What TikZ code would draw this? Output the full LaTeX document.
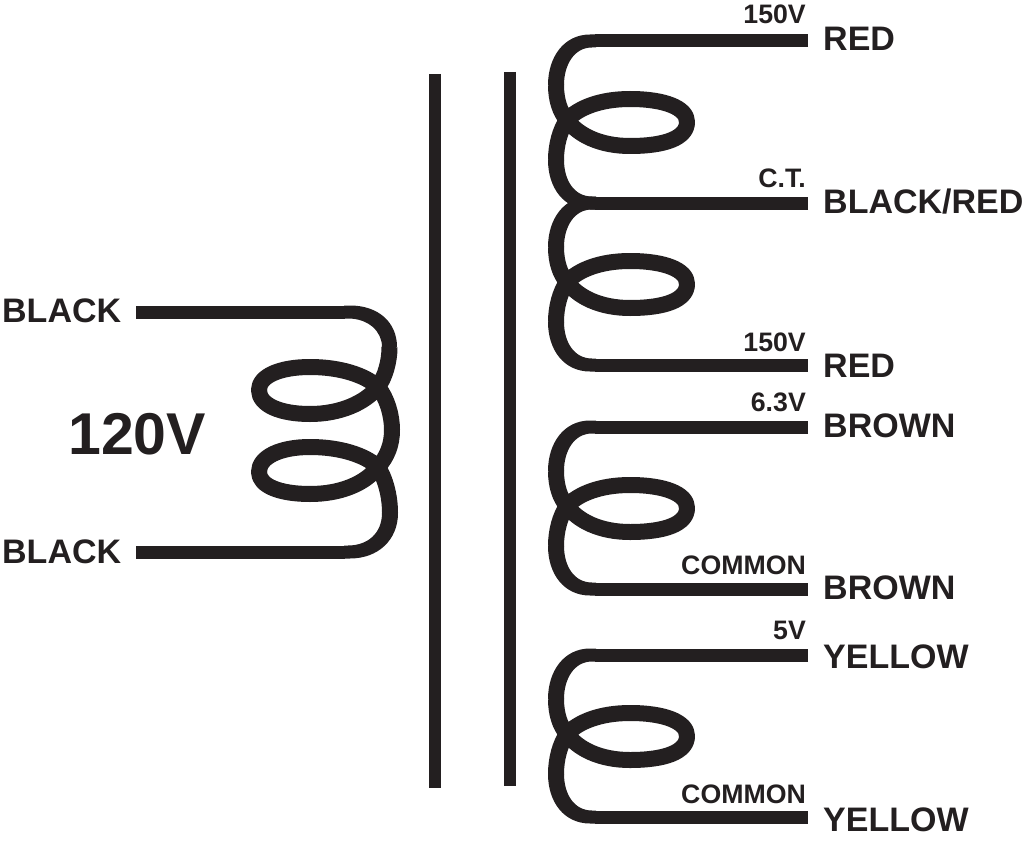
\documentclass[tikz,border=0pt]{standalone}
\usepackage{fontspec}
\setmainfont{Liberation Sans}
\definecolor{ink}{HTML}{231F20}
\tikzstyle{wire} = [draw=ink, line width=13pt, line join=round]
\tikzstyle{thick wire} = [draw=ink, line width=16pt, line join=round]
\tikzstyle{core} = [draw=ink, line width=12.5pt]
\tikzstyle{lead} = [inner sep=0pt, anchor=base west, font=\fontsize{34}{34}\selectfont\bfseries, text=ink]
\tikzstyle{tap} = [inner sep=0pt, anchor=base east, font=\fontsize{26.7}{26.7}\selectfont\bfseries, text=ink]
% one half of the secondary, #1 = how far down it sits
\newcommand{\halfcoil}[1]{
    \begin{scope}[shift={(0,#1)}]
    \draw[wire] (808,41) -- (595,41);
    \draw[wire] (595,203) -- (808,203);
    % bends swell from the lead to the loop
    \fill[ink] (596,34.5) -- (590,34.5) .. controls (564,34.5) and (548,57) .. (548,85)
        -- (564,85) .. controls (564,65) and (574,47.5) .. (592,47.5) -- (596,47.5) -- cycle;
    \fill[ink] (596,209.5) -- (590,209.5) .. controls (564,209.5) and (548,188) .. (548,160)
        -- (564,160) .. controls (564,180) and (574,196.5) .. (592,196.5) -- (596,196.5) -- cycle;
    \draw[thick wire] (556,85) .. controls (556,100) and (560,112) .. (567,120)
        .. controls (578,135) and (600,146) .. (630,146)
        .. controls (665,146) and (687,138) .. (687,122)
        .. controls (687,108) and (665,99) .. (630,99)
        .. controls (600,99) and (578,108) .. (567,120)
        .. controls (560,130) and (556,145) .. (556,160);
    \end{scope}
}

\begin{document}
\begin{tikzpicture}[x=1pt, y=-1pt]
    \useasboundingbox (0,0) rectangle (1024,845);

    \draw[core] (435,74) -- (435,788);
    \draw[core] (510,72) -- (510,786);

    % primary
    \draw[wire] (136,312) -- (345,312);
    \draw[wire] (136,552) -- (345,552);
    \fill[ink] (344,305.5) -- (350,305.5) .. controls (378,305.5) and (397,322) .. (397,347)
        -- (382,347) .. controls (382,331) and (368,318.5) .. (348,318.5) -- (344,318.5) -- cycle;
    \fill[ink] (344,558.5) -- (350,558.5) .. controls (378,558.5) and (398,540) .. (398,513)
        -- (382,513) .. controls (382,533) and (368,545.5) .. (348,545.5) -- (344,545.5) -- cycle;
    \draw[thick wire] (389.5,347)
        .. controls (389.5,362) and (385,377) .. (378,387)
        .. controls (365,403) and (340,414) .. (310,414)
        .. controls (280,414) and (259,405) .. (259,390)
        .. controls (259,376) and (280,367) .. (310,367)
        .. controls (340,367) and (365,375) .. (378,387)
        .. controls (387,398) and (392,415) .. (392,430)
        .. controls (392,445) and (387,457) .. (378,467)
        .. controls (365,484) and (340,494) .. (310,494)
        .. controls (280,494) and (259,486) .. (259,472)
        .. controls (259,457) and (280,447) .. (310,447)
        .. controls (340,447) and (365,455) .. (378,467)
        .. controls (385,478) and (390,495) .. (390,513);

    % secondaries
    \halfcoil{0}
    \halfcoil{162}
    \halfcoil{386}
    \halfcoil{614}

    \node (black1) [lead] at (2,322) {BLACK};
    \node (black2) [lead] at (2,563) {BLACK};
    \node (volt) [lead, font=\fontsize{59}{59}\selectfont\bfseries] at (68,454) {120V};

    \node (red1) [lead] at (823,51) {RED};
    \node (blackred) [lead] at (823,213) {BLACK/RED};
    \node (red2) [lead] at (823,377) {RED};
    \node (brown1) [lead] at (823,437) {BROWN};
    \node (brown2) [lead] at (823,599) {BROWN};
    \node (yellow1) [lead] at (823,668) {YELLOW};
    \node (yellow2) [lead] at (823,831) {YELLOW};

    \node (t150a) [tap] at (806,24) {150V};
    \node (tct) [tap] at (806,187) {C.T.};
    \node (t150b) [tap] at (806,351) {150V};
    \node (t63) [tap] at (806,411) {6.3V};
    \node (tcom1) [tap] at (806,574) {COMMON};
    \node (t5) [tap] at (806,639) {5V};
    \node (tcom2) [tap] at (806,803) {COMMON};
\end{tikzpicture}
\end{document}
